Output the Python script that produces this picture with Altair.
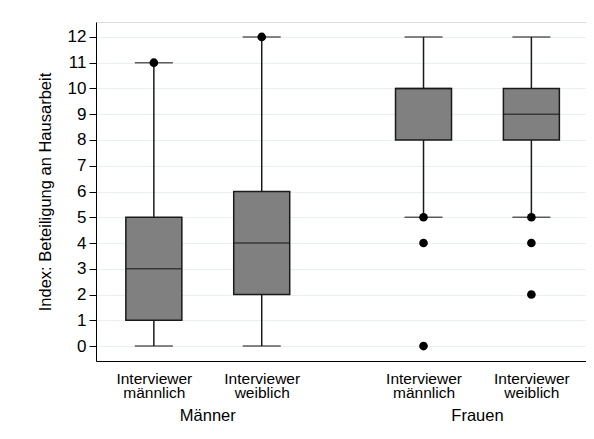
import altair as alt
import pandas as pd

# ---- data ----
groups = ["Männer", "Frauen"]
interviewer = ["Interviewer männlich", "Interviewer weiblich"]
box_group = ["Männer", "Männer", "Frauen", "Frauen"]
box_interviewer = ["Interviewer männlich", "Interviewer weiblich",
                   "Interviewer männlich", "Interviewer weiblich"]
lower_whisker = [0, 0, 5, 5]
q1 = [1, 2, 8, 8]
median = [3, 4, 10, 9]
q3 = [5, 6, 10, 10]
upper_whisker = [11, 12, 12, 12]
outlier_box = [0, 1, 2, 2, 2, 3, 3, 3]
outlier_value = [11, 12, 5, 4, 0, 5, 4, 2]
y_ticks = list(range(0, 13))

# layout: position of each box on the x axis (group gap of 1.5 slots)
def pos_of(g, i):
    return groups.index(g) * 2.5 + interviewer.index(i)

positions = [pos_of(g, i) for g, i in zip(box_group, box_interviewer)]

boxes = pd.DataFrame({
    "pos": positions, "group": box_group, "interviewer": box_interviewer,
    "lo": lower_whisker, "q1": q1, "med": median, "q3": q3, "hi": upper_whisker,
})
outliers = pd.DataFrame({
    "pos": [positions[b] for b in outlier_box], "value": outlier_value,
})
group_centres = pd.DataFrame({
    "group": groups,
    "pos": [sum(p for p, g in zip(positions, box_group) if g == gr) /
            box_group.count(gr) for gr in groups],
})

# label expression for the two-line tick labels
parts = []
for p, lab in zip(positions, box_interviewer):
    w = lab.split(" ")
    parts.append(f"datum.value == {p} ? ['{w[0]}', '{w[1]}']")
label_expr = " : ".join(parts) + " : ''"

W, H = 490, 339
FONT = "Liberation Sans"

xscale = alt.Scale(domain=[-0.49, 3.96], nice=False, zero=False)
yscale = alt.Scale(domain=[-0.58, 12.58], nice=False, zero=False)

x_axis = alt.Axis(values=positions, labelExpr=label_expr, grid=False,
                  ticks=False, labelPadding=10, labelFontSize=15.5,
                  labelLineHeight=14, labelColor="black", title=None,
                  domainColor="black", labelFont=FONT, labelOverlap=False)
y_axis = alt.Axis(values=y_ticks, tickCount=13, grid=True, gridColor="#e8f0f2",
                  tickSize=7, tickColor="black", labelPadding=3,
                  labelFontSize=17, labelColor="black", domainColor="black",
                  labelOverlap=False, labelFlush=False,
                  title="Index: Beteiligung an Hausarbeit", titleFontSize=16.5,
                  titleFontWeight="normal", titleColor="black",
                  titlePadding=14, labelFont=FONT, titleFont=FONT)


def X():
    return alt.X("pos:Q", scale=xscale, axis=x_axis)


def Y(field):
    return alt.Y(field, scale=yscale, axis=y_axis)


base = alt.Chart(boxes)

whisk_lo = base.mark_rule(color="#1a1a1a", strokeWidth=1.5).encode(
    x=X(), y=Y("lo:Q"), y2="q1:Q")
whisk_hi = base.mark_rule(color="#1a1a1a", strokeWidth=1.5).encode(
    x=X(), y=Y("q3:Q"), y2="hi:Q")
cap_lo = base.mark_tick(color="#1a1a1a", thickness=1.5, size=38,
                        orient="horizontal").encode(x=X(), y=Y("lo:Q"))
cap_hi = base.mark_tick(color="#1a1a1a", thickness=1.5, size=38,
                        orient="horizontal").encode(x=X(), y=Y("hi:Q"))
box = base.mark_bar(size=56, color="#808080", stroke="#1a1a1a",
                    strokeWidth=1.5).encode(x=X(), y=Y("q1:Q"), y2="q3:Q")
med = base.mark_tick(color="#1a1a1a", thickness=1.5, size=56,
                     orient="horizontal").encode(x=X(), y=Y("med:Q"))
dots = alt.Chart(outliers).mark_circle(color="black", opacity=1, size=75).encode(
    x=X(), y=Y("value:Q"))
glabels = alt.Chart(group_centres).mark_text(
    fontSize=16.5, font=FONT, color="black", baseline="alphabetic").encode(
    x=X(), y=alt.value(H + 60), text="group:N")

chart = alt.layer(whisk_lo, whisk_hi, cap_lo, cap_hi, box, med, dots, glabels).properties(
    width=W, height=H,
    autosize=alt.AutoSizeParams(type="none"),
    padding={"left": 88, "top": 14, "right": 0, "bottom": 66},
).configure_view(stroke=None).configure(background="white").configure_axis(
    labelOverlap=False)

chart.save("out.html", embed_options={"renderer": "svg", "actions": False})
